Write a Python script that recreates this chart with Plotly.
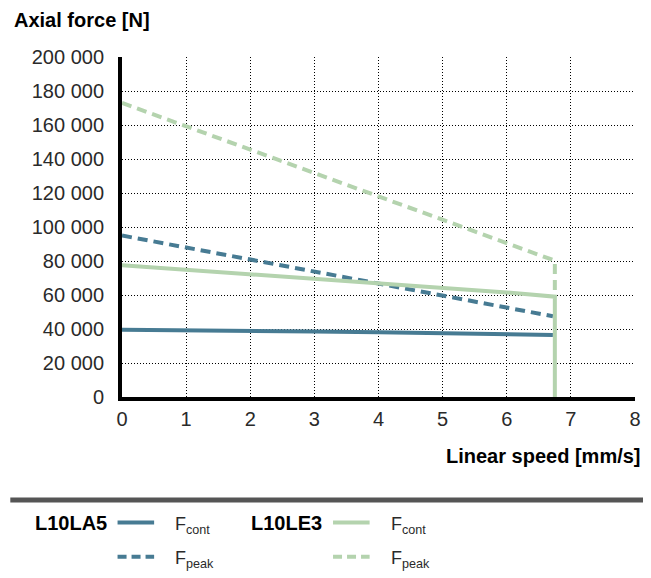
import plotly.graph_objects as go

# data
speed_la5 = [0, 1, 2, 3, 4, 5, 6, 6.72]
fcont_la5 = [39500, 39300, 39000, 38600, 38100, 37600, 37000, 36500]
speed_la5_peak = [0, 6.72]
fpeak_la5 = [95000, 47500]

speed_le3 = [0, 1, 2, 3, 4, 5, 6, 6.75, 6.75]
fcont_le3 = [77500, 74900, 72300, 69600, 66900, 64300, 61500, 59000, 0]
speed_le3_peak = [0, 6.75, 6.75]
fpeak_le3 = [173000, 80200, 59000]

x_ticks = [0, 1, 2, 3, 4, 5, 6, 7, 8]
y_ticks = [0, 20000, 40000, 60000, 80000, 100000, 120000, 140000, 160000,
           180000, 200000]

BLUE = '#477b93'
GREEN = '#b4d3ae'
FONT = 'Liberation Sans'

# page body adds an 8px margin, so the figure is drawn 8px smaller
OFF = 8
W, H = 651 - OFF, 578 - OFF
L, R, T, B = 122 - OFF, 10, 57 - OFF, 181
pw = W - L - R
ph = H - T - B


def px(x):
    # reference pixel -> paper x
    return (x - OFF - L) / pw


def py(y):
    # reference pixel -> paper y
    return (H - B - (y - OFF)) / ph


fig = go.Figure()
fig.add_trace(go.Scatter(x=speed_la5, y=fcont_la5, mode='lines',
                         line=dict(color=BLUE, width=4)))
fig.add_trace(go.Scatter(x=speed_la5_peak, y=fpeak_la5, mode='lines',
                         line=dict(color=BLUE, width=4, dash='10px,6px')))
fig.add_trace(go.Scatter(x=speed_le3_peak, y=fpeak_le3, mode='lines',
                         line=dict(color=GREEN, width=4, dash='10px,6px')))
fig.add_trace(go.Scatter(x=speed_le3, y=fcont_le3, mode='lines',
                         line=dict(color=GREEN, width=4)))

fig.update_layout(
    width=W, height=H,
    margin=dict(l=L, r=R, t=T, b=B),
    paper_bgcolor='white', plot_bgcolor='white',
    showlegend=False,
    separators=', ',
    font=dict(family=FONT, size=20, color='#2a2a2a'),
)
fig.update_xaxes(range=[0, 8], tickvals=x_ticks, showline=True,
                 linewidth=4, linecolor='black', showgrid=True,
                 gridcolor='black', gridwidth=1, griddash='1px,2px',
                 zeroline=False, ticks='', ticklabelstandoff=1)
fig.update_yaxes(range=[0, 200000], tickvals=y_ticks, tickformat=',d',
                 showline=True, linewidth=4, linecolor='black',
                 showgrid=True, gridcolor='black', gridwidth=1,
                 griddash='1px,2px', zeroline=False, ticks='',
                 ticklabelstandoff=10)

# axis titles
fig.add_annotation(x=px(11), y=py(20), xref='paper', yref='paper',
                   xanchor='left', yanchor='middle', showarrow=False,
                   text='<b>Axial force [N]</b>',
                   font=dict(size=20, color='black'))
fig.add_annotation(x=px(649), y=py(456), xref='paper', yref='paper',
                   xanchor='right', yanchor='middle', showarrow=False,
                   text='<b>Linear speed [mm/s]</b>',
                   font=dict(size=20, color='black'))

# separator
fig.add_shape(type='line', xref='paper', yref='paper',
              x0=px(9), x1=px(651), y0=py(500), y1=py(500),
              line=dict(color='#555555', width=5))

# custom legend
rows = [522.5, 556.7]
groups = [('L10LA5', BLUE, 109, 117.5, 173.5),
          ('L10LE3', GREEN, 326, 335.5, 392.5)]
for name, color, name_right, line_left, f_left in groups:
    fig.add_annotation(x=px(name_right), y=py(rows[0]), xref='paper',
                       yref='paper', xanchor='right', yanchor='middle',
                       showarrow=False, text=f'<b>{name}</b>',
                       font=dict(size=20, color='black'))
    for row, dash, sub in [(rows[0], 'solid', 'cont'),
                           (rows[1], '9px,5px', 'peak')]:
        fig.add_shape(type='line', xref='paper', yref='paper',
                      x0=px(line_left), x1=px(line_left + 37),
                      y0=py(row), y1=py(row),
                      line=dict(color=color, width=4, dash=dash))
        fig.add_annotation(x=px(f_left), y=py(row + 3), xref='paper',
                           yref='paper', xanchor='left', yanchor='middle',
                           showarrow=False,
                           text=f'F<sub>{sub}</sub>',
                           font=dict(size=18, color='#2a2a2a'))

fig.write_html('out.html')
